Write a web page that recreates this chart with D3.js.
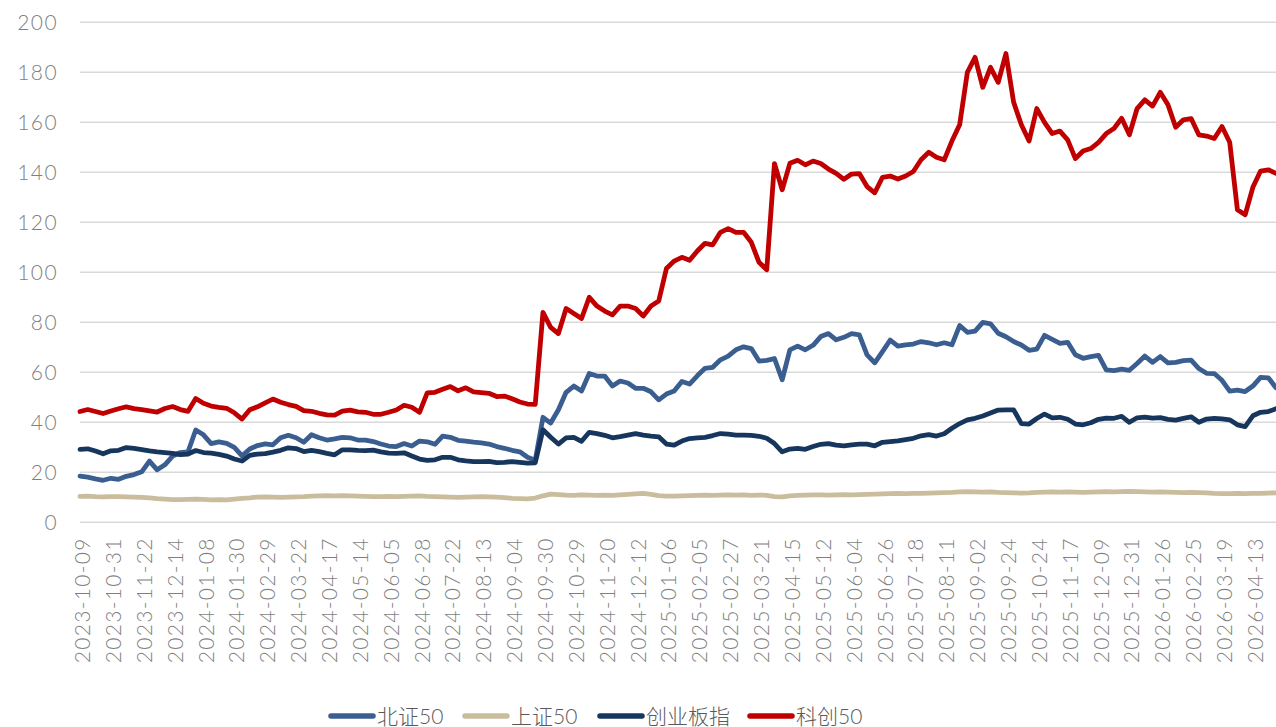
<!DOCTYPE html>
<html>
<head>
<meta charset="utf-8">
<script src="https://cdn.jsdelivr.net/npm/d3@7/dist/d3.min.js"></script>
<style>
  html, body { margin: 0; padding: 0; background: #ffffff; }
  svg { display: block; }
  .tick-label { font-family: Lato, "Noto Sans", sans-serif; font-weight: 300; fill: #7f7f7f; }
  .legend-label { font-family: Lato, "Noto Sans CJK SC", sans-serif; font-weight: 300; fill: #595959; }
</style>
</head>
<body>
<svg id="chart" width="1276" height="727"></svg>
<script>
// Trading-day axis: one sample every STEP trading days, labels every 16 trading days.
const STEP = 4;
const LABEL_EVERY = 16;

const tickLabels = [
  "2023-10-09","2023-10-31","2023-11-22","2023-12-14","2024-01-08","2024-01-30",
  "2024-02-29","2024-03-22","2024-04-17","2024-05-14","2024-06-05","2024-06-28",
  "2024-07-22","2024-08-13","2024-09-04","2024-09-30","2024-10-29","2024-11-20",
  "2024-12-12","2025-01-06","2025-02-05","2025-02-27","2025-03-21","2025-04-15",
  "2025-05-12","2025-06-04","2025-06-26","2025-07-18","2025-08-11","2025-09-02",
  "2025-09-24","2025-10-24","2025-11-17","2025-12-09","2025-12-31","2026-01-26",
  "2026-02-25","2026-03-19","2026-04-13"
];

const yTicks = [0, 20, 40, 60, 80, 100, 120, 140, 160, 180, 200];

// 北证50
const bz50 = [
  18.5, 18.1, 17.4, 16.8, 17.6, 17.2, 18.4, 19.1, 20.2, 24.5,
  21.0, 23.0, 26.5, 27.9, 28.2, 36.9, 35.0, 31.5, 32.2, 31.6,
  30.0, 26.6, 29.3, 30.7, 31.4, 31.0, 33.8, 34.8, 33.8, 32.0,
  35.0, 33.8, 32.9, 33.4, 34.0, 33.8, 32.9, 32.9, 32.3, 31.3,
  30.5, 30.3, 31.5, 30.5, 32.5, 32.2, 31.2, 34.5, 34.0, 32.8,
  32.5, 32.1, 31.8, 31.3, 30.3, 29.6, 28.8, 28.2, 26.0, 24.8,
  42.0, 39.7, 45.0, 52.0, 54.5, 52.5, 59.5, 58.5, 58.5, 54.5,
  56.5, 55.7, 53.6, 53.6, 52.2, 49.0, 51.3, 52.5, 56.3, 55.3,
  58.6, 61.6, 62.0, 65.0, 66.5, 69.0, 70.2, 69.5, 64.5, 64.8,
  65.5, 57.0, 69.0, 70.5, 69.0, 70.8, 74.3, 75.5, 73.0, 74.0,
  75.5, 75.0, 67.0, 63.8, 68.3, 72.9, 70.5, 71.0, 71.3, 72.3,
  71.8, 71.0, 71.8, 71.0, 78.7, 76.0, 76.5, 80.0, 79.4, 75.6,
  74.2, 72.3, 70.9, 68.8, 69.3, 74.8, 73.2, 71.6, 72.0, 67.0,
  65.6, 66.3, 66.8, 61.0, 60.7, 61.3, 60.8, 63.5, 66.5, 64.0,
  66.3, 63.8, 64.0, 64.7, 64.9, 61.5, 59.6, 59.5, 56.8, 52.5,
  52.9, 52.3, 54.5, 58.0, 57.8, 53.8
];

// 上证50
const sz50 = [
  10.4, 10.5, 10.3, 10.2, 10.3, 10.3, 10.2, 10.1, 10.0, 9.8,
  9.5, 9.3, 9.1, 9.1, 9.2, 9.3, 9.2, 9.0, 9.1, 9.0,
  9.3, 9.6, 9.8, 10.1, 10.2, 10.1, 10.0, 10.1, 10.2, 10.3,
  10.5, 10.6, 10.7, 10.6, 10.7, 10.6, 10.5, 10.4, 10.3, 10.3,
  10.4, 10.3, 10.4, 10.5, 10.6, 10.4, 10.3, 10.2, 10.1, 10.0,
  10.1, 10.2, 10.3, 10.2, 10.1, 9.9, 9.6, 9.5, 9.4, 9.7,
  10.6, 11.3, 11.1, 10.9, 10.8, 11.0, 10.9, 10.8, 10.9, 10.8,
  11.0, 11.2, 11.4, 11.6, 11.2, 10.7, 10.5, 10.5, 10.6, 10.7,
  10.8, 10.9, 10.8, 10.9, 11.0, 10.9, 11.0, 10.8, 10.9, 10.8,
  10.3, 10.2, 10.6, 10.8, 10.9, 11.0, 11.0, 10.9, 11.0, 11.1,
  11.0, 11.1, 11.2, 11.3, 11.4, 11.5, 11.6, 11.5, 11.6, 11.6,
  11.7, 11.8, 11.9, 12.0, 12.2, 12.3, 12.2, 12.1, 12.2, 12.0,
  11.9, 11.8, 11.7, 11.8, 12.0, 12.1, 12.2, 12.1, 12.2, 12.1,
  12.0, 12.1, 12.2, 12.3, 12.2, 12.3, 12.4, 12.3, 12.2, 12.1,
  12.2, 12.1, 12.0, 11.9, 12.0, 11.9, 11.8, 11.6, 11.5, 11.5,
  11.6, 11.5, 11.6, 11.6, 11.7, 11.8
];

// 创业板指
const cyb = [
  29.2, 29.4, 28.5, 27.4, 28.6, 28.8, 29.9, 29.6, 29.1, 28.6,
  28.2, 27.9, 27.6, 27.1, 27.3, 28.7, 27.9, 27.7, 27.2, 26.5,
  25.3, 24.5, 26.8, 27.3, 27.5, 28.1, 28.8, 29.8, 29.5, 28.3,
  28.8, 28.3, 27.6, 27.0, 29.0, 29.0, 28.8, 28.7, 28.9, 28.2,
  27.7, 27.6, 27.8, 26.5, 25.3, 24.8, 25.0, 26.0, 26.0, 25.0,
  24.6, 24.3, 24.3, 24.4, 23.9, 24.0, 24.3, 24.0, 23.7, 23.8,
  37.0, 34.0, 31.3, 33.8, 34.0, 32.4, 36.0, 35.5, 34.8, 33.8,
  34.3, 34.9, 35.5, 34.9, 34.5, 34.2, 31.3, 30.9, 32.5, 33.5,
  33.8, 34.0, 34.7, 35.5, 35.3, 34.9, 34.9, 34.8, 34.4, 33.6,
  31.5, 28.2, 29.3, 29.6, 29.2, 30.3, 31.2, 31.5, 30.9, 30.6,
  31.0, 31.3, 31.3, 30.6, 32.0, 32.3, 32.6, 33.1, 33.6, 34.6,
  35.1, 34.5, 35.4, 37.6, 39.5, 41.0, 41.6, 42.5, 43.7, 44.9,
  45.0, 45.0, 39.5, 39.3, 41.5, 43.3, 41.8, 42.0, 41.2, 39.3,
  39.0, 39.8, 41.2, 41.7, 41.6, 42.4, 40.0, 41.8, 42.1, 41.7,
  41.9, 41.2, 40.9, 41.6, 42.2, 40.0, 41.3, 41.6, 41.4, 41.0,
  39.0, 38.3, 42.6, 44.0, 44.3, 45.4
];

// 科创50
const kc50 = [
  44.3, 45.1, 44.3, 43.5, 44.5, 45.4, 46.2, 45.5, 45.1, 44.6,
  44.1, 45.5, 46.3, 45.1, 44.4, 49.5, 47.6, 46.5, 46.0, 45.6,
  43.8, 41.3, 45.0, 46.2, 47.8, 49.3, 48.0, 47.1, 46.4, 44.7,
  44.4, 43.6, 43.0, 42.9, 44.5, 44.9, 44.2, 44.0, 43.2, 43.2,
  44.0, 44.9, 46.8, 46.0, 44.0, 51.8, 52.0, 53.2, 54.3, 52.6,
  53.8, 52.2, 51.9, 51.6, 50.3, 50.5, 49.4, 48.1, 47.3, 47.2,
  84.0, 78.0, 75.5, 85.5, 83.5, 81.5, 90.0, 86.5, 84.5, 83.0,
  86.5, 86.5, 85.5, 82.5, 86.5, 88.5, 101.5, 104.5, 106.0, 104.8,
  108.5, 111.6, 111.0, 116.0, 117.5, 116.0, 116.0, 112.0, 104.0, 101.0,
  143.5, 133.0, 143.6, 144.8, 143.0, 144.5, 143.5, 141.3, 139.6, 137.2,
  139.3, 139.5, 134.3, 131.8, 138.0, 138.5, 137.3, 138.5, 140.3, 145.0,
  148.0, 146.0, 145.0, 152.5, 159.0, 180.0, 186.0, 174.0, 182.0, 176.0,
  187.5, 168.0, 159.0, 152.5, 165.5, 160.0, 155.5, 156.5, 153.0, 145.5,
  148.5, 149.5, 152.0, 155.5, 157.5, 161.6, 155.0, 165.5, 169.0, 166.5,
  172.0, 167.0, 158.0, 161.0, 161.5, 155.0, 154.5, 153.5, 158.3, 152.0,
  125.0, 123.0, 134.0, 140.5, 141.0, 139.6
];

const seriesNames = ["北证50", "上证50", "创业板指", "科创50"];
const seriesColors = ["#3b5e91", "#c9bd9d", "#17365d", "#c00000"];
const seriesValues = [bz50, sz50, cyb, kc50];

const svg = d3.select("#chart");
const W = 1276;

const lastIndex = (kc50.length - 1) * STEP;
const x = d3.scaleLinear().domain([0, lastIndex]).range([80, W]);
const y = d3.scaleLinear().domain([0, 200]).range([522.3, 22.3]);

// Horizontal gridlines
svg.append("g")
  .selectAll("line")
  .data(yTicks)
  .join("line")
  .attr("x1", 80).attr("x2", W)
  .attr("y1", d => y(d)).attr("y2", d => y(d))
  .attr("stroke", "#d9d9d9")
  .attr("stroke-width", 1.5);

// Y axis labels
const yAxis = d3.axisLeft(y).tickValues(yTicks).tickSize(0).tickPadding(0);
const yg = svg.append("g").attr("transform", "translate(58,0)").call(yAxis);
yg.select(".domain").remove();
yg.selectAll("text")
  .attr("class", "tick-label")
  .attr("font-size", 21)
  .attr("letter-spacing", "1.4px")
  .attr("dy", "0.36em")
  .attr("fill", null);

// X axis labels, rotated
const tickIdx = tickLabels.map((_, i) => i * LABEL_EVERY);
const xAxis = d3.axisBottom(x).tickValues(tickIdx).tickSize(0)
  .tickFormat((d, i) => tickLabels[i]);
const xg = svg.append("g").attr("transform", "translate(0,522.3)").call(xAxis);
xg.select(".domain").remove();
xg.selectAll("text")
  .attr("class", "tick-label")
  .attr("font-size", 21)
  .attr("letter-spacing", "1.3px")
  .attr("text-anchor", "end")
  .attr("fill", null)
  .attr("transform", "translate(2,15) rotate(-90)")
  .attr("x", 0).attr("y", 0)
  .attr("dy", "0.36em");

// Lines
const line = d3.line()
  .x((d, i) => x(i * STEP))
  .y(d => y(d));

svg.append("g")
  .selectAll("path")
  .data(seriesValues)
  .join("path")
  .attr("d", d => line(d))
  .attr("fill", "none")
  .attr("stroke", (d, i) => seriesColors[i])
  .attr("stroke-width", 4.8)
  .attr("stroke-linejoin", "round")
  .attr("stroke-linecap", "round");

// Legend
const legendX = [329, 463, 598, 748];
const legend = svg.append("g").attr("transform", "translate(0,716)");
const items = legend.selectAll("g")
  .data(seriesNames)
  .join("g")
  .attr("transform", (d, i) => `translate(${legendX[i]},0)`);
items.append("line")
  .attr("x1", 2).attr("x2", 44)
  .attr("y1", 0).attr("y2", 0)
  .attr("stroke", (d, i) => seriesColors[i])
  .attr("stroke-width", 5.5)
  .attr("stroke-linecap", "round");
items.append("text")
  .attr("class", "legend-label")
  .attr("x", 48)
  .attr("y", 0)
  .attr("dy", "0.36em")
  .attr("font-size", 21)
  .text(d => d);
</script>
</body>
</html>
